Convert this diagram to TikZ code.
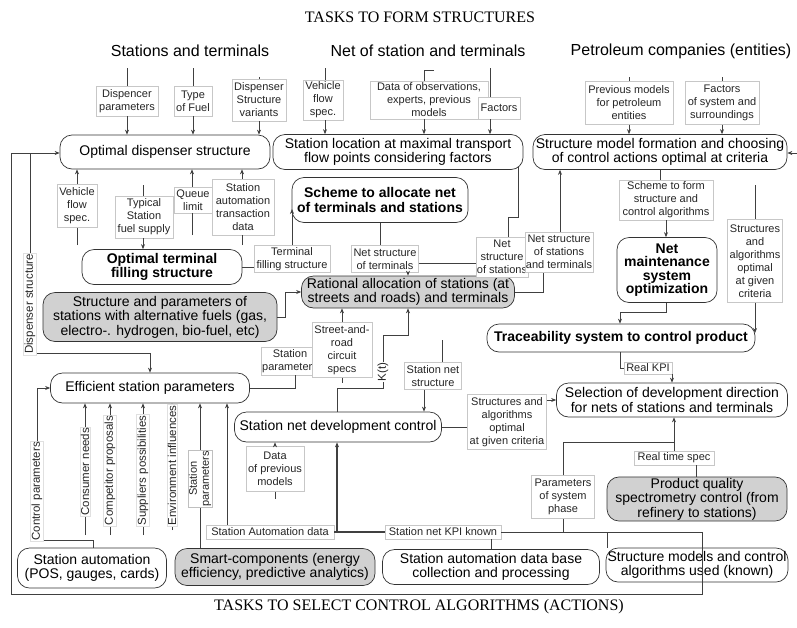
\documentclass[tikz,border=0pt]{standalone}
\usepackage{fontspec}
\setmainfont{Liberation Serif}
\setsansfont{Liberation Sans}
\usetikzlibrary{arrows.meta,calc}
\begin{document}
\begin{tikzpicture}[x=1pt,y=-1pt,
 bx/.style={draw=black!80, line width=0.7pt, rounded corners=12pt, align=center, inner sep=1pt, font=\sffamily\fontsize{14}{14.5}\selectfont, text=black},
 bb/.style={bx, font=\sffamily\bfseries\fontsize{14}{14.5}\selectfont},
 gbx/.style={bx, fill=black!18},
 lb/.style={draw=black!22, line width=0.4pt, fill=white, align=center, inner sep=1pt, font=\sffamily\fontsize{11}{13}\selectfont, text=black!85},
 rl/.style={lb, rotate=90, draw=black!12, font=\sffamily\fontsize{11.5}{12.5}\selectfont},
 ln/.style={draw=black!75, line width=0.7pt},
 ar/.style={ln, -{Stealth[length=5pt,width=4pt]}},
 hd/.style={font=\sffamily\fontsize{16}{18}\selectfont},
 ttl/.style={font=\fontsize{16}{18}\selectfont}]
\useasboundingbox (0,0) rectangle (797,627);
\fill[white] (0,0) rectangle (797,627);
% titles and headers
\node[ttl] (t1) at (420,17) {TASKS TO FORM STRUCTURES};
\node[ttl] (t2) at (419,607) {TASKS TO SELECT CONTROL ALGORITHMS (ACTIONS)};
\node[hd] (h1) at (190,51) {Stations and terminals};
\node[hd] (h2) at (428,51) {Net of station and terminals};
\node[hd] (h3) at (681,51) {Petroleum companies (entities)};
% boxes
\node[bx, minimum width=210pt, minimum height=34pt] (ods) at (165,152) {Optimal dispenser structure};
\node[bx, minimum width=250pt, minimum height=35pt] (sl) at (398,152) {Station location at maximal transport\\flow points considering factors};
\node[bx, minimum width=254pt, minimum height=35pt] (smf) at (660,152) {Structure model formation and choosing\\of control actions optimal at criteria};
\node[bb, minimum width=176pt, minimum height=45pt] (sch) at (380,200) {Scheme to allocate net\\of terminals and stations};
\node[bb, minimum width=160pt, minimum height=35pt] (otf) at (162,267) {Optimal terminal\\filling structure};
\node[bb, minimum width=100pt, minimum height=65pt, font=\sffamily\bfseries\fontsize{14}{13.5}\selectfont] (nms) at (667,270) {Net\\maintenance\\system\\optimization};
\node[gbx, minimum width=234pt, minimum height=49pt] (alt) at (160,317) {Structure and parameters of\\stations with alternative fuels (gas,\\electro-. hydrogen, bio-fuel, etc)};
\node[gbx, minimum width=213pt, minimum height=32pt] (ral) at (408,292) {Rational allocation of stations (at\\streets and roads) and terminals};
\node[bb, minimum width=268pt, minimum height=28pt] (tr) at (621,338) {Traceability system to control product};
\node[bx, minimum width=199pt, minimum height=30pt] (esp) at (150,388) {Efficient station parameters};
\node[bx, minimum width=207pt, minimum height=30pt] (sndc) at (338,427) {Station net development control};
\node[bx, minimum width=231pt, minimum height=34pt] (sel) at (672,400) {Selection of development direction\\for nets of stations and terminals};
\node[gbx, minimum width=180pt, minimum height=42pt] (pq) at (697,499) {Product quality\\spectrometry control (from\\refinery to stations)};
\node[bx, minimum width=149pt, minimum height=40pt] (sa) at (92,568) {Station automation\\(POS, gauges, cards)};
\node[gbx, minimum width=200pt, minimum height=37pt] (sc) at (275,567) {Smart-components (energy\\efficiency, predictive analytics)};
\node[bx, minimum width=217pt, minimum height=35pt] (sadb) at (491,567) {Station automation data base\\collection and processing};
\node[bx, minimum width=182pt, minimum height=34pt] (smc) at (697,565) {Structure models and control\\algorithms used (known)};
% labels
\node[lb, minimum width=62pt, minimum height=30pt] (l_dp) at (127,101) {Dispencer\\parameters};
\node[lb, minimum width=38pt, minimum height=30pt] (l_tf) at (193,101) {Type\\of Fuel};
\node[lb, minimum width=54pt, minimum height=42pt] (l_dsv) at (259,100) {Dispenser\\Structure\\variants};
\node[lb, minimum width=40pt, minimum height=40pt] (l_vfs1) at (323,100) {Vehicle\\flow\\spec.};
\node[lb, minimum width=118pt, minimum height=38pt] (l_dat) at (429,100) {Data of observations,\\experts, previous\\models};
\node[lb, minimum width=42pt, minimum height=22pt] (l_fac) at (499,108) {Factors};
\node[lb, minimum width=88pt, minimum height=43pt] (l_pm) at (629,103) {Previous models\\for petroleum\\entities};
\node[lb, minimum width=74pt, minimum height=43pt] (l_fs) at (722,103) {Factors\\of system and\\surroundings};
\node[lb, minimum width=40pt, minimum height=43pt] (l_vfs2) at (77,206) {Vehicle\\flow\\spec.};
\node[lb, minimum width=58pt, minimum height=42pt] (l_tss) at (144,217) {Typical\\Station\\fuel supply};
\node[lb, minimum width=38pt, minimum height=26pt] (l_ql) at (193,200) {Queue\\limit};
\node[lb, minimum width=62pt, minimum height=56pt] (l_sat) at (243,207) {Station\\automation\\transaction\\data};
\node[lb, minimum width=76pt, minimum height=27pt] (l_tfs) at (292,259) {Terminal\\filling structure};
\node[lb, minimum width=67pt, minimum height=27pt] (l_nst) at (385,259) {Net structure\\of terminals};
\node[lb, minimum width=42pt, minimum height=40pt] (l_nss) at (502,257) {Net\\structure\\of stations};
\node[lb, minimum width=68pt, minimum height=40pt] (l_nsst) at (559,252) {Net structure\\of stations\\and terminals};
\node[lb, minimum width=94pt, minimum height=40pt] (l_sfs) at (666,200) {Scheme to form\\structure and\\control algorithms};
\node[lb, minimum width=55pt, minimum height=83pt] (l_sag) at (755,261) {Structures\\and\\algorithms\\optimal\\at given\\criteria};
\node[lb, minimum width=46pt, minimum height=28pt] (l_sp) at (290,361) {Station\\parameters};
\node[lb, minimum width=60pt, minimum height=55pt] (l_sr) at (342,350) {Street-and-\\road\\circuit\\specs};
\node[lb, minimum width=57pt, minimum height=27pt] (l_sns) at (433,376) {Station net\\structure};
\node[lb, minimum width=79pt, minimum height=55pt] (l_sagc) at (507,422) {Structures and\\algorithms\\optimal\\at given criteria};
\node[lb, minimum width=48pt, minimum height=12pt] (l_rkpi) at (648,368) {Real KPI};
\node[lb, minimum width=80pt, minimum height=14pt] (l_rts) at (674,458) {Real time spec};
\node[lb, minimum width=63pt, minimum height=43pt] (l_psp) at (563,497) {Parameters\\of system\\phase};
\node[lb, minimum width=58pt, minimum height=45pt] (l_dpm) at (275,469) {Data\\of previous\\models};
\node[lb, minimum width=128pt, minimum height=14pt] (l_sad) at (270,532) {Station Automation data};
\node[lb, minimum width=116pt, minimum height=14pt] (l_kpi) at (443,532) {Station net KPI known};
% top inputs
\coordinate (a1) at (127,68); \draw[ln] (a1) -- (l_dp.north -| a1); \draw[ar] (l_dp.south -| a1) -- (ods.north -| a1);
\coordinate (a2) at (193,68); \draw[ln] (a2) -- (l_tf.north -| a2); \draw[ar] (l_tf.south -| a2) -- (ods.north -| a2);
\coordinate (a3) at (259,77); \draw[ln] (a3) -- (l_dsv.north -| a3); \draw[ar] (l_dsv.south -| a3) -- (ods.north -| a3);
\coordinate (a4) at (325,68); \draw[ln] (a4) -- (l_vfs1.north -| a4); \draw[ar] (l_vfs1.south -| a4) -- (sl.north -| a4);
\coordinate (a5) at (424,70); \coordinate (a5b) at (434,70); \draw[ln] (a5b) -- (a5) -- (l_dat.north -| a5); \draw[ar] (l_dat.south -| a5) -- (sl.north -| a5);
\coordinate (a6) at (490,68); \draw[ln] (a6) -- (l_fac.north -| a6); \draw[ar] (l_fac.south -| a6) -- (sl.north -| a6);
\coordinate (a7) at (629,77); \draw[ln] (a7) -- (l_pm.north -| a7); \draw[ar] (l_pm.south -| a7) -- (smf.north -| a7);
\coordinate (a8) at (722,77); \draw[ln] (a8) -- (l_fs.north -| a8); \draw[ar] (l_fs.south -| a8) -- (smf.north -| a8);
% second row
\coordinate (b1) at (77,245); \draw[ln] (b1) -- (l_vfs2.south -| b1); \draw[ar] (l_vfs2.north -| b1) -- (ods.south -| b1);
\coordinate (b2) at (143,185); \draw[ln] (b2) -- (l_tss.north -| b2); \draw[ar] (l_tss.south -| b2) -- (otf.north -| b2);
\coordinate (b3) at (192,235); \draw[ln] (b3) -- (l_ql.south -| b3); \draw[ar] (l_ql.north -| b3) -- (ods.south -| b3);
\coordinate (b4) at (242,245); \draw[ln] (b4) -- (l_sat.south -| b4); \draw[ar] (l_sat.north -| b4) -- (ods.south -| b4);
\draw[ln] (otf.east) -- (otf.east -| l_tfs.west);
\coordinate (c1) at (292,209); \draw[ar] (l_tfs.north -| c1) -- (c1);
\coordinate (c0) at (380,0); \draw[ln] (sch.south) -- (l_nst.north -| c0);
\coordinate (c2) at (0,263); \draw[ln] (l_nst.east |- c2) -- (l_nss.west |- c2);
\coordinate (c3) at (408,0); \draw[ar] (l_nst.south -| c3) -- (ral.north -| c3);
\coordinate (c4a) at (518,167); \coordinate (c4) at (518,217); \coordinate (c5) at (508,217); \draw[ln] (c4a) -- (c4) -- (c5) -- (l_nss.north -| c5);
\coordinate (c6) at (560,0); \draw[ar] (l_nsst.north -| c6) -- (smf.south -| c6);
\coordinate (c7) at (543,292); \draw[ln] (l_nsst.south -| c7) -- (c7) -- (ral.east);
\node[lb, minimum width=68pt, minimum height=40pt] at (l_nsst) {Net structure\\of stations\\and terminals};
\coordinate (d1) at (660,0); \draw[ln] (smf.south -| d1) -- (l_sfs.north -| d1);
\coordinate (d2) at (666,0); \draw[ar] (l_sfs.south -| d2) -- (nms.north -| d2);
\coordinate (d3) at (666,312); \coordinate (d4) at (620,312); \draw[ar] (nms.south -| d3) -- (d3) -- (d4) -- (tr.north -| d4);
\coordinate (d5) at (755,185); \coordinate (d6) at (755,333); \draw[ln] (d5) -- (l_sag.north); \draw[ar] (l_sag.south) -- (d6);
\coordinate (d7) at (620,368); \draw[ln] (tr.south -| d7) -- (d7) -- (l_rkpi.west);
\coordinate (d8) at (672,0); \draw[ar] (l_rkpi.south -| d8) -- (sel.north -| d8);
\coordinate (e1) at (285,317); \coordinate (e2) at (285,292); \draw[ar] (alt.east) -- (e1) -- (e2) -- (ral.west);
% frame and feedback
\coordinate (f1) at (607,532); \coordinate (f2) at (702,532); \coordinate (f3) at (702,594); \coordinate (f4) at (11,594); \coordinate (f5) at (11,153); \coordinate (f6) at (30,153); \coordinate (f7) at (30,353); \coordinate (f8) at (150,353); \coordinate (f9) at (563,532); \coordinate (f10) at (563,442); \coordinate (f11) at (674,442);
\draw[ln] (smc.north -| f1) -- (f1);
\draw[ar] (l_kpi.east) -- (f9) -- (f2) -- (f3) -- (f4) -- (f5) -- (ods.west |- f5);
\draw[ar] (f6) -- node[rl, pos=0.755] (l_ds) {Dispenser structure} (f7) -- (f8) -- (esp.north -| f8);
\draw[ln] (f9) -- (l_psp.south -| f9); \draw[ln] (l_psp.north -| f9) -- (f10) -- (f11);
\draw[ar] (l_rts.north -| f11) -- (sel.south -| f11);
\coordinate (g1) at (696,0); \draw[ln] (pq.north -| g1) -- (l_rts.south -| g1);
\coordinate (s1) at (797,153); \draw[ar] (s1) -- (smf.east |- s1);
% middle
\coordinate (h1) at (295,388); \draw[ln] (esp.east |- h1) -- (h1) -- (l_sp.south -| h1);
\node[lb, minimum width=60pt, minimum height=55pt] at (l_sr) {Street-and-\\road\\circuit\\specs};
\coordinate (k1) at (337,388); \coordinate (k2) at (383,388); \coordinate (k3) at (383,335); \coordinate (k4) at (408,335);
\draw[ar] (sndc.north -| k1) -- (k1) -- (k2) -- node[rl, pos=0.3, draw=none] (l_kt) {K(t)} (k3) -- (k4) -- (ral.south -| k4);
\coordinate (k5) at (342,0); \coordinate (k6) at (342,383); \draw[ar] (l_sr.north -| k5) -- (ral.south -| k5); \draw[ln] (l_sr.south -| k5) -- (k6);
\coordinate (k7) at (442,340); \draw[ln] (k7) -- (l_sns.north -| k7); \coordinate (k8) at (424,0); \draw[ar] (l_sns.south -| k8) -- (sndc.north -| k8);
\draw[ln] (sndc.east) -- (sndc.east -| l_sagc.west);
\coordinate (m1) at (0,400); \draw[ar] (l_sagc.east |- m1) -- (sel.west |- m1);
\coordinate (n1) at (275,0); \coordinate (n2) at (275,499); \draw[ar] (l_dpm.north -| n1) -- (sndc.south -| n1); \draw[ln] (l_dpm.south -| n1) -- (n2);
% bottom connections
\coordinate (p1) at (491,0); \draw[ln] (sadb.north -| p1) -- (l_kpi.south -| p1);
\draw[ln, line width=1.4pt] (l_kpi.west) -- (l_sad.east);
\coordinate (p2) at (337,532); \draw[ar, line width=1.2pt] (p2) -- (sndc.south -| p2);
\coordinate (p3) at (227,0); \draw[ar] (l_sad.north -| p3) -- (esp.south -| p3);
\coordinate (q1) at (93,540); \coordinate (q2) at (37,540); \coordinate (q3) at (37,388);
\draw[ar] (sa.north -| q1) -- (q1) -- (q2) -- node[rl, pos=0.32] (l_cp) {Control parameters} (q3) -- (esp.west |- q3);
\coordinate (r1) at (85,535); \draw[ar] (r1) -- node[rl, pos=0.48] (l_cn) {Consumer needs} (esp.south -| r1);
\coordinate (r2) at (110,535); \draw[ar] (r2) -- node[rl, pos=0.49] (l_cpp) {Competitor proposals} (esp.south -| r2);
\coordinate (r3) at (143,535); \draw[ar] (r3) -- node[rl, pos=0.49] (l_spo) {Suppliers possibilities} (esp.south -| r3);
\coordinate (r4) at (172,530); \draw[ar] (r4) -- node[rl, pos=0.51] (l_ei) {Environment influences} (esp.south -| r4);
\coordinate (r5) at (200,0); \draw[ar] (sc.north -| r5) -- node[rl, pos=0.48, draw=black!25, font=\sffamily\fontsize{11}{12}\selectfont] (l_sp2) {Station\\parameters} (esp.south -| r5);
\end{tikzpicture}
\end{document}
